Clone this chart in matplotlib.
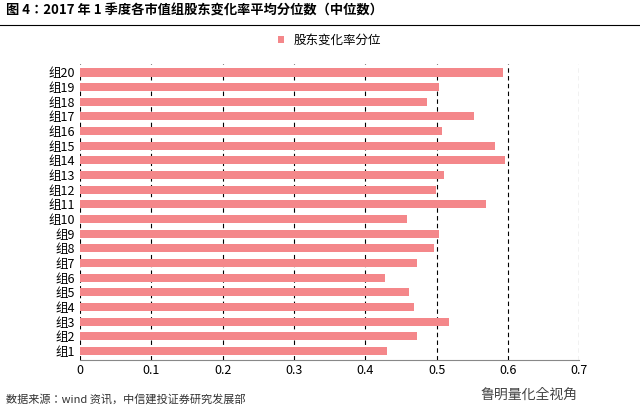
import matplotlib
matplotlib.use("Agg")
import matplotlib.pyplot as plt
from matplotlib import font_manager as fm

cjk = None
for f in fm.findSystemFonts():
    if 'CJK' in f or 'cjk' in f.lower():
        try:
            fm.fontManager.addfont(f)
        except Exception:
            pass
names = sorted({e.name for e in fm.fontManager.ttflist if 'CJK' in e.name})
fam = [n for n in names if 'SC' in n] or names or ['DejaVu Sans']
plt.rcParams['font.family'] = [fam[0], 'DejaVu Sans']

categories = ["组%d" % i for i in range(1, 21)]
values = [0.431, 0.473, 0.517, 0.469, 0.462, 0.428, 0.472, 0.497, 0.503, 0.458,
          0.570, 0.499, 0.510, 0.596, 0.582, 0.508, 0.553, 0.487, 0.503, 0.593]
xticks = [0, 0.1, 0.2, 0.3, 0.4, 0.5, 0.6, 0.7]
series_name = "股东变化率分位"

fig = plt.figure(figsize=(6.4, 4.11), dpi=100)
ax = fig.add_axes([0.125, 0.125, 0.78, 0.72])
ax.barh(range(len(categories)), values, height=0.55, color="#F4878A", label=series_name, zorder=3)
ax.set_yticks(range(len(categories)))
ax.set_yticklabels(categories, fontsize=9)
ax.set_ylim(-0.6, len(categories) - 0.4)
ax.set_xlim(0, 0.7)
ax.set_xticks(xticks)
ax.set_xticklabels([str(x) if x else "0" for x in xticks], fontsize=9)
ax.grid(axis='x', color='black', linestyle=(0, (4, 3)), linewidth=0.8, zorder=0)
for s in ['top', 'right', 'left']:
    ax.spines[s].set_visible(False)
ax.spines['bottom'].set_color('#888888')
ax.tick_params(length=0)
ax.legend(loc='lower center', bbox_to_anchor=(0.5, 1.02), frameon=False, fontsize=9,
          handlelength=0.5, handleheight=0.5)

fig.text(0.01, 0.965, "图 4：2017 年 1 季度各市值组股东变化率平均分位数（中位数）", fontsize=9.5,
         fontweight='bold')
fig.add_artist(plt.Line2D([0.0, 1.0], [0.94, 0.94], color='black', linewidth=0.8))
fig.text(0.01, 0.02, "数据来源：wind 资讯，中信建投证券研究发展部", fontsize=8, style='italic', color='#333333')
fig.text(0.75, 0.03, "鲁明量化全视角", fontsize=10, color='#444444')
fig.savefig("out.png", dpi=100)
